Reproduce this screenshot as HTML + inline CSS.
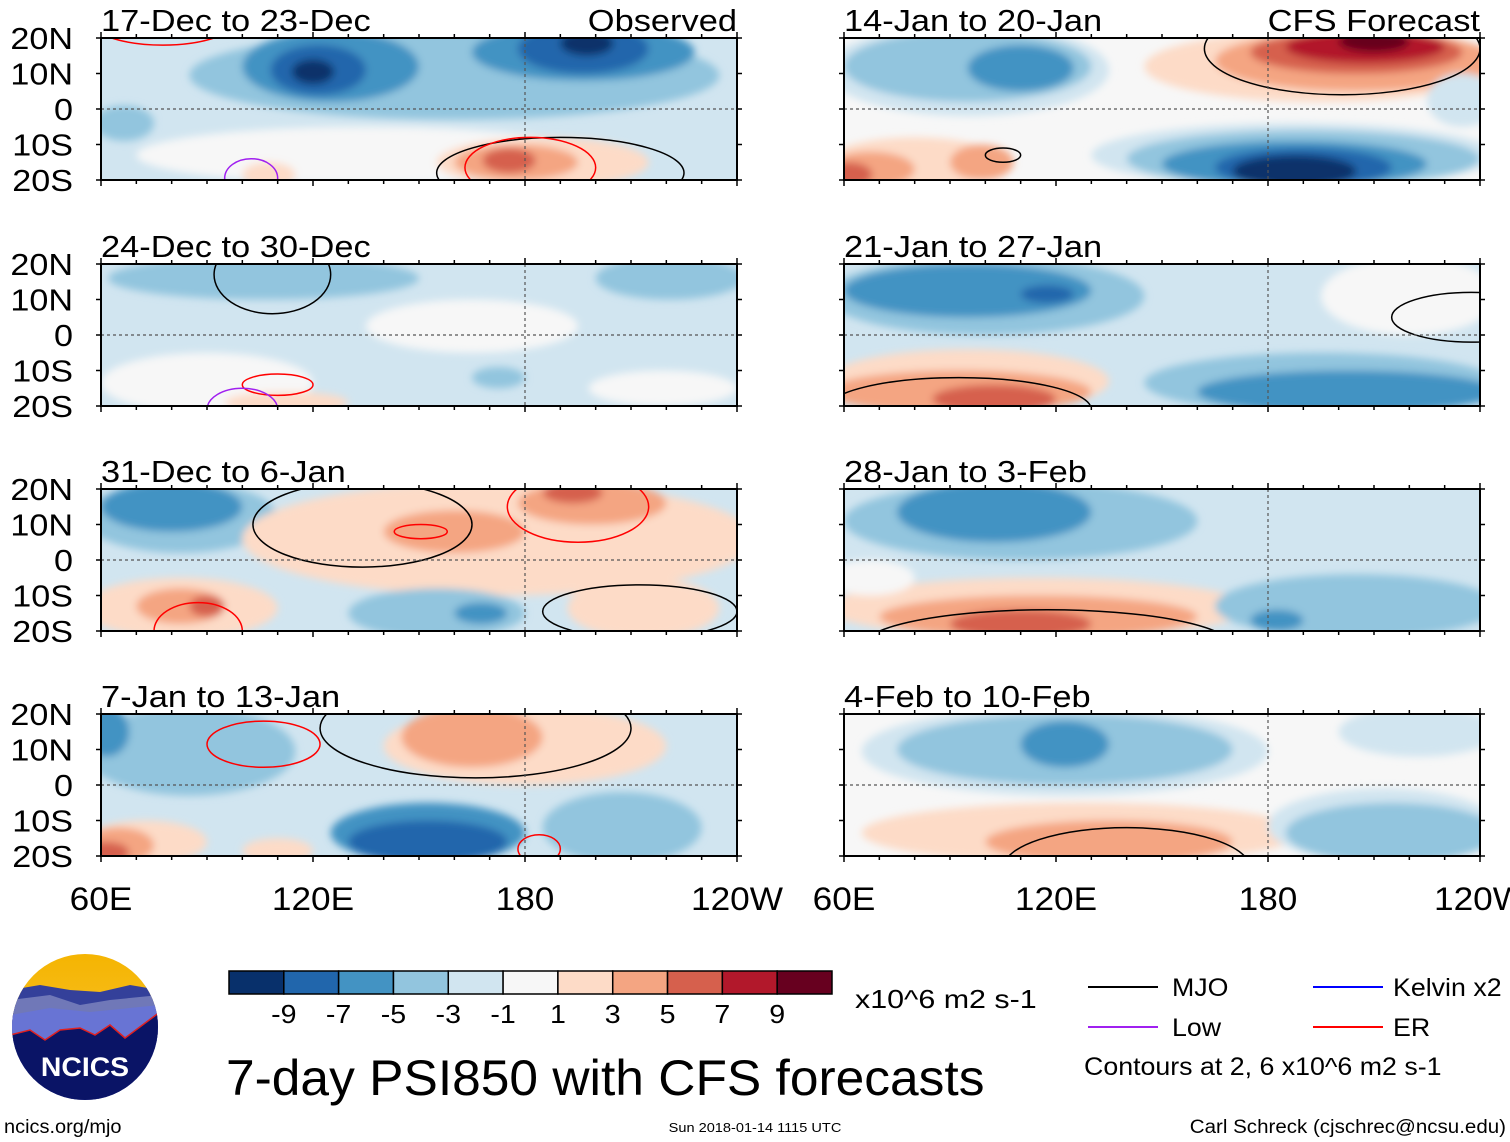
<!DOCTYPE html>
<html><head><meta charset="utf-8">
<style>
html,body{margin:0;padding:0;background:#fff;}
svg{display:block;font-family:"Liberation Sans",sans-serif;}
</style></head>
<body>
<svg id="chart" width="1510" height="1142" viewBox="0 0 1510 1142" xmlns="http://www.w3.org/2000/svg">
<defs>
<filter id="blur" x="-10%" y="-10%" width="120%" height="120%"><feGaussianBlur stdDeviation="4"/></filter>
<linearGradient id="sky" x1="0" y1="0" x2="0" y2="1"><stop offset="0" stop-color="#f5b400"/><stop offset="1" stop-color="#f7c840"/></linearGradient>
<clipPath id="logoclip"><circle cx="85" cy="1027" r="73"/></clipPath>
</defs>
<g id="panels"></g>

<g>
<g clip-path="url(#logoclip)">
<rect x="10" y="950" width="150" height="160" fill="url(#sky)"/>
<path d="M10 990 L40 985 L70 990 L100 992 L130 985 L160 990 L160 1110 L10 1110Z" fill="#34409a"/>
<path d="M10 1000 L50 995 L80 1005 L110 1000 L160 995 L160 1110 L10 1110Z" fill="#7078b8"/>
<path d="M10 1015 L50 1008 L90 1012 L160 1005 L160 1110 L10 1110Z" fill="#6874d4"/>
<path d="M10 1035 L30 1030 L45 1040 L60 1030 L80 1028 L95 1035 L110 1025 L125 1038 L160 1012 L160 1110 L10 1110Z" fill="#0a1466" stroke="#e02020" stroke-width="1.5"/>
</g>
<text data-k="1.05" x="85" y="1076" font-size="27" font-weight="bold" fill="#fff" text-anchor="middle">NCICS</text>
</g>
<text data-k="1.05" x="4" y="1133" font-size="19">ncics.org/mjo</text>
<text data-k="1.12" x="755" y="1132" font-size="13" text-anchor="middle">Sun 2018-01-14 1115 UTC</text>
<text data-k="1.08" x="1506" y="1133" font-size="19" text-anchor="end">Carl Schreck (cjschrec@ncsu.edu)</text>
<text data-k="1.03" x="226" y="1095" font-size="50">7-day PSI850 with CFS forecasts</text>
<g id="colorbar"></g>
<text data-k="1.17" x="855" y="1008" font-size="26">x10^6 m2 s-1</text>
<g>
<line x1="1088" y1="987" x2="1158" y2="987" stroke="#000" stroke-width="2"/>
<text data-k="1.07" x="1172" y="996" font-size="25">MJO</text>
<line x1="1088" y1="1027" x2="1158" y2="1027" stroke="#a020f0" stroke-width="2"/>
<text data-k="1.07" x="1172" y="1036" font-size="25">Low</text>
<line x1="1313" y1="987" x2="1383" y2="987" stroke="#0000ff" stroke-width="2"/>
<text data-k="1.07" x="1393" y="996" font-size="25">Kelvin x2</text>
<line x1="1313" y1="1027" x2="1383" y2="1027" stroke="#ff0000" stroke-width="2"/>
<text data-k="1.07" x="1393" y="1036" font-size="25">ER</text>
<text data-k="1.07" x="1084" y="1075" font-size="25">Contours at 2, 6 x10^6 m2 s-1</text>
</g>
</svg>
<script>
const levelColors = ["#08306b","#2166ac","#4393c3","#92c5de","#d1e5f0","#f7f7f7","#fddbc7","#f4a582","#d6604d","#b2182b","#67001f"];
const cbLabels = ["-9","-7","-5","-3","-1","1","3","5","7","9"];
const panelTitles = ["17-Dec to 23-Dec","24-Dec to 30-Dec","31-Dec to 6-Jan","7-Jan to 13-Jan","14-Jan to 20-Jan","21-Jan to 27-Jan","28-Jan to 3-Feb","4-Feb to 10-Feb"];
const latTicks = [20,10,0,-10,-20];
const latLabels = ["20N","10N","0","10S","20S"];
const lonTicks = [60,120,180,240];
const lonLabels = ["60E","120E","180","120W"];
const bgLevels = [-1,-1,-1,-1,0,-1,-1,0];
// blobs: [lon0, lon1, lat0, lat1, level]
const blobs0 = [[85,235,-3,22,-2],[58,75,-9,1,-2],[100,150,2,22,-3],[108,135,4,18,-4],[114,126,7,14,-5],[165,228,8,24,-3],[178,215,10,24,-4],[190,205,15,22,-5],[70,200,-21,-5,0],[155,215,-22,-8,1],[160,195,-20,-10,2],[168,183,-18,-11,3],[100,115,-22,-15,1]];
const blobs1 = [[62,150,10,22,-2],[200,242,10,22,-2],[135,195,-5,10,0],[60,120,-22,-5,0],[165,180,-15,-9,-2],[95,130,-22,-16,1],[198,240,-20,-10,0]];
const blobs2 = [[55,110,2,22,-2],[60,100,8,22,-3],[100,245,-10,22,1],[140,180,2,14,2],[178,220,10,22,2],[185,202,16,22,3],[55,110,-22,-5,1],[70,95,-18,-8,2],[85,95,-16,-10,3],[130,180,-22,-8,-2],[160,175,-18,-12,-3],[192,235,-22,-5,1]];
const blobs3 = [[55,115,-3,22,-2],[55,68,8,22,-3],[140,220,0,22,1],[145,185,5,22,2],[125,180,-22,-5,-3],[130,175,-22,-10,-4],[55,90,-22,-10,1],[55,75,-22,-12,2],[55,68,-22,-16,3],[185,230,-22,-2,-2],[100,120,-22,-15,1]];
const blobs4 = [[55,135,-2,24,-1],[60,130,2,22,-2],[95,125,5,18,-3],[145,245,2,22,1],[165,245,5,22,2],[175,235,10,22,3],[185,230,13,22,4],[200,220,16,22,5],[130,245,-22,-4,-1],[140,240,-22,-6,-2],[150,225,-22,-9,-3],[165,215,-22,-11,-4],[170,205,-22,-13,-5],[55,105,-22,-8,1],[55,80,-22,-12,2],[90,108,-20,-10,2],[55,68,-22,-15,3],[225,245,-5,10,-1]];
const blobs5 = [[55,145,0,22,-2],[60,130,5,20,-3],[110,125,9,14,-4],[195,245,0,22,0],[55,135,-22,-4,1],[55,130,-22,-10,2],[85,120,-22,-14,3],[145,245,-22,-5,-2],[160,245,-22,-10,-3]];
const blobs6 = [[60,160,0,22,-2],[75,130,5,22,-3],[55,175,-22,-5,1],[70,160,-22,-10,2],[90,130,-22,-14,3],[165,245,-22,-4,-2],[175,190,-20,-14,-3],[55,80,-10,0,0]];
const blobs7 = [[65,180,-3,22,-1],[75,170,0,20,-2],[110,135,5,18,-3],[65,190,-22,-5,1],[100,170,-22,-10,2],[180,245,-22,-1,-1],[185,245,-22,-5,-2],[200,245,8,22,-1]];
const allBlobs = [blobs0,blobs1,blobs2,blobs3,blobs4,blobs5,blobs6,blobs7];
// contour outlines: [lon0, lon1, lat0, lat1, color]
const contours0 = [[155,225,-28,-8,"#000"],[163,200,-25,-8,"#f00"],[55,100,18,35,"#f00"],[95,110,-25,-14,"#a020f0"]];
const contours1 = [[92,125,6,28,"#000"],[100,120,-17,-11,"#f00"],[90,110,-27,-15,"#a020f0"]];
const contours2 = [[103,165,-2,22,"#000"],[143,158,6,10,"#f00"],[175,215,5,25,"#f00"],[185,240,-22,-7,"#000"],[75,100,-28,-12,"#f00"]];
const contours3 = [[90,122,5,18,"#f00"],[122,210,2,30,"#000"],[178,190,-22,-14,"#f00"]];
const contours4 = [[162,240,4,30,"#000"],[100,110,-15,-11,"#000"]];
const contours5 = [[55,130,-30,-12,"#000"],[215,260,-2,12,"#000"]];
const contours6 = [[65,170,-35,-14,"#000"]];
const contours7 = [[105,175,-35,-12,"#000"]];
const allContours = [contours0,contours1,contours2,contours3,contours4,contours5,contours6,contours7];

const NS = "http://www.w3.org/2000/svg";
const root = document.getElementById("panels");
function mk(tag, attrs, parent){const e=document.createElementNS(NS,tag);for(const k in attrs)e.setAttribute(k,attrs[k]);parent.appendChild(e);return e;}
const colX = [101,844], rowY = [38,264,489,714], PW = 636, PH = 142;
function col(lev){return levelColors[lev+5];}

allBlobs.forEach((blobs,i)=>{
  const x0 = colX[i<4?0:1], y0 = rowY[i%4];
  const xs = lon => x0 + (lon-60)/180*PW;
  const ys = lat => y0 + (20-lat)/40*PH;
  const g = mk("g",{},root);
  
  
  const cp = mk("clipPath",{id:"cp"+i},g);
  mk("rect",{x:x0,y:y0,width:PW,height:PH},cp);
  const inner = mk("g",{"clip-path":"url(#cp"+i+")"},g);
  mk("rect",{x:x0,y:y0,width:PW,height:PH,fill:col(bgLevels[i])},inner);
  const fg = mk("g",{filter:"url(#blur)"},inner);
  blobs.forEach(b=>{
    const el = mk("ellipse",{cx:(xs(b[0])+xs(b[1]))/2,cy:(ys(b[2])+ys(b[3]))/2,rx:(xs(b[1])-xs(b[0]))/2,ry:(ys(b[2])-ys(b[3]))/2,fill:col(b[4])},fg);
    
    
  });
  allContours[i].forEach(c=>{
    const el = mk("ellipse",{cx:(xs(c[0])+xs(c[1]))/2,cy:(ys(c[2])+ys(c[3]))/2,rx:(xs(c[1])-xs(c[0]))/2,ry:(ys(c[2])-ys(c[3]))/2,fill:"none",stroke:c[4],"stroke-width":1.5},inner);
    
    
  });
  mk("line",{x1:x0,x2:x0+PW,y1:ys(0),y2:ys(0),stroke:"#555","stroke-dasharray":"3,3","stroke-width":1.2},inner);
  mk("line",{x1:xs(180),x2:xs(180),y1:y0,y2:y0+PH,stroke:"#555","stroke-dasharray":"3,3","stroke-width":1.2},inner);
  mk("rect",{x:x0,y:y0,width:PW,height:PH,fill:"none",stroke:"#000","stroke-width":2},g);
  for(let lon=60;lon<=240;lon+=10){
    const big = (lon%60===0);
    mk("line",{x1:xs(lon),x2:xs(lon),y1:y0,y2:y0-(big?6:4),stroke:"#000","stroke-width":1.5},g);
    mk("line",{x1:xs(lon),x2:xs(lon),y1:y0+PH,y2:y0+PH+(big?6:4),stroke:"#000","stroke-width":1.5},g);
  }
  latTicks.forEach((lat,j)=>{
    mk("line",{x1:x0,x2:x0-5,y1:ys(lat),y2:ys(lat),stroke:"#000","stroke-width":1.5},g);
    mk("line",{x1:x0+PW,x2:x0+PW+5,y1:ys(lat),y2:ys(lat),stroke:"#000","stroke-width":1.5},g);
    if(i<4){
      const t = mk("text",{x:73,y:ys(lat)+11,"font-size":31,"text-anchor":"end","data-k":"1.1"},g);
      t.textContent = latLabels[j];
      
      
    }
  });
  const t = mk("text",{x:x0,y:y0-7,"font-size":31,"data-k":"1.11"},g);
  t.textContent = panelTitles[i];
  
  
  if(i===0||i===4){
    const s = mk("text",{x:x0+PW,y:y0-7,"font-size":31,"text-anchor":"end","data-k":"1.11"},g);
    s.textContent = i===0?"Observed":"CFS Forecast";
    
    
  }
  if(i%4===3){
    lonTicks.forEach((lon,j)=>{
      const l = mk("text",{x:xs(lon),y:910,"font-size":32,"text-anchor":"middle","data-k":"1.1"},g);
      l.textContent = lonLabels[j];
      
      
    });
  }
});

const cb = document.getElementById("colorbar");
const cbX = 229, cbY = 971, cbW = 603/11, cbH = 23;
levelColors.forEach((c,k)=>{
  const r = mk("rect",{x:cbX+k*cbW,y:cbY,width:cbW,height:cbH,fill:c,stroke:"#000","stroke-width":1.5},cb);
  
  
});
cbLabels.forEach((s,k)=>{
  const t = mk("text",{x:cbX+(k+1)*cbW,y:1023,"font-size":26,"text-anchor":"middle","data-k":"1.1"},cb);
  t.textContent = s;
  
  
});
document.querySelectorAll("text[data-k]").forEach(t=>{
  const k = parseFloat(t.getAttribute("data-k"));
  const len = t.getComputedTextLength();
  if(len>0){t.setAttribute("textLength", (len*k).toFixed(1));t.setAttribute("lengthAdjust","spacingAndGlyphs");}
});
</script>
</body></html>
